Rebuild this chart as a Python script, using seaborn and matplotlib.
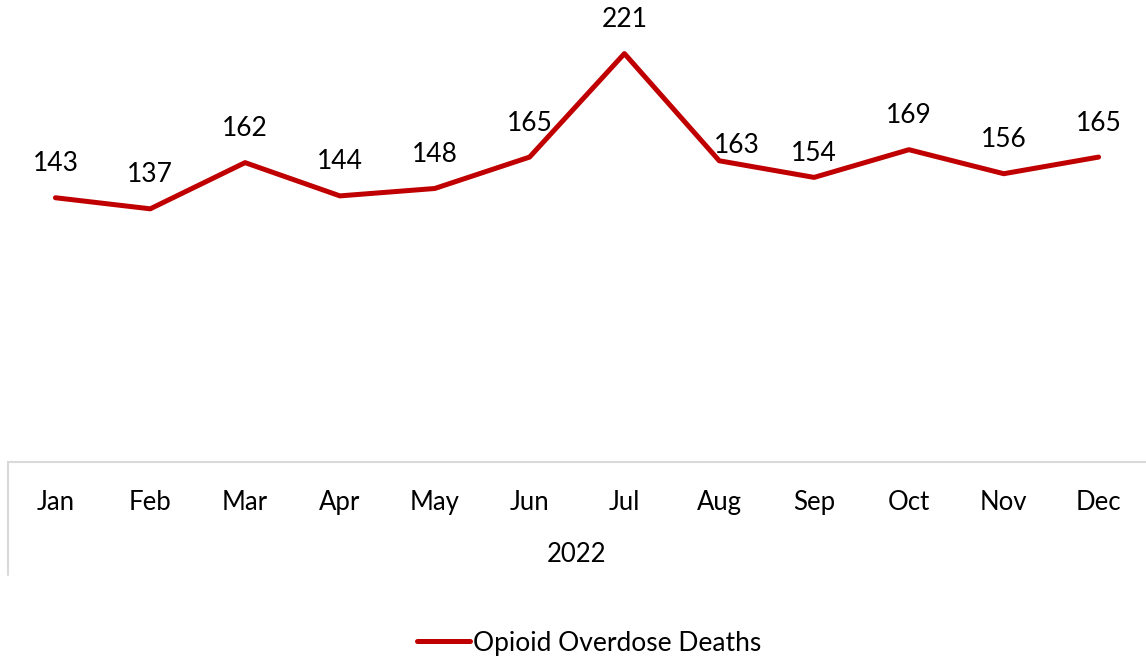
import matplotlib
matplotlib.use('Agg')
import matplotlib.pyplot as plt
import seaborn as sns
import pandas as pd
from matplotlib.lines import Line2D

months = ['Jan', 'Feb', 'Mar', 'Apr', 'May', 'Jun', 'Jul', 'Aug', 'Sep', 'Oct', 'Nov', 'Dec']
deaths = [143, 137, 162, 144, 148, 165, 221, 163, 154, 169, 156, 165]
year_label = '2022'
series_name = 'Opioid Overdose Deaths'

sns.set_style('white')
plt.rcParams['font.family'] = ['Lato', 'DejaVu Sans']
plt.rcParams['text.color'] = 'black'
plt.rcParams['xtick.color'] = 'black'

RED = '#C00000'
GRID = '#D9D9D9'

df = pd.DataFrame({'month': months, 'deaths': deaths, 'x': range(len(months))})

fig = plt.figure(figsize=(11.46, 6.62), dpi=100)
ax = fig.add_axes([8 / 1146, 1 - 462 / 662, 1 - 8 / 1146, 462 / 662])

sns.lineplot(data=df, x='x', y='deaths', color=RED, lw=3.6, ax=ax, legend=False)
ax.set_xlim(-0.5, len(months) - 0.5)
ax.set_ylim(0, 250)

# data labels (Aug and Sep were nudged in the original)
offsets = {7: (13, 11), 8: (0, 17.5)}
for i, v in enumerate(deaths):
    dx, dy = offsets.get(i, (0, 24.5))
    ax.annotate(str(v), (i, v), xytext=(dx, dy), textcoords='offset points',
                ha='center', va='center', fontsize=19, color='black')

for s in ['top', 'right', 'left']:
    ax.spines[s].set_visible(False)
ax.spines['bottom'].set_color(GRID)
ax.spines['bottom'].set_linewidth(1.5)
ax.set_yticks([])
ax.set_xticks(range(len(months)))
ax.set_xticklabels(months, fontsize=18.5)
ax.tick_params(axis='x', length=0, pad=20, colors='black')
ax.set_xlabel('')
ax.set_ylabel('')

# category group line and year label
fig.add_artist(Line2D([8 / 1146, 8 / 1146], [1 - 462 / 662, 1 - 575 / 662],
                      color=GRID, lw=1.5, transform=fig.transFigure))
fig.text(577 / 1146, 1 - 555 / 662, year_label, ha='center', va='center', fontsize=18.5)

handle = Line2D([], [], color=RED, lw=3.6)
fig.legend([handle], [series_name], loc='center', bbox_to_anchor=(589 / 1146, 1 - 643 / 662),
           frameon=False, fontsize=19, handlelength=2.0, handletextpad=0.1)

fig.savefig('out.png', dpi=100)
